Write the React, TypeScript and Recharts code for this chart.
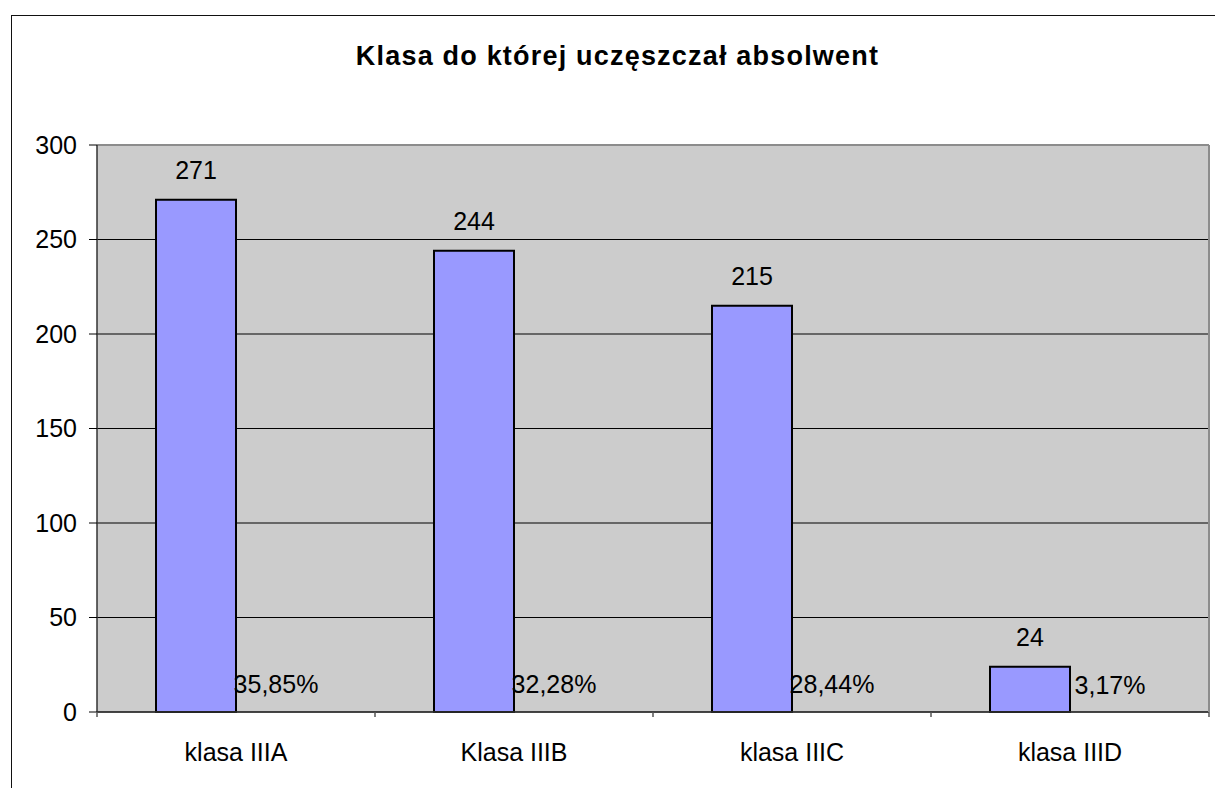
import { BarChart, Bar, XAxis, YAxis, CartesianGrid, ReferenceLine, LabelList } from "recharts";

const categories = ["klasa IIIA", "Klasa IIIB", "klasa IIIC", "klasa IIID"];
const counts = [271, 244, 215, 24];
const percents = [35.85, 32.28, 28.44, 3.17];
const yTicks = [0, 50, 100, 150, 200, 250, 300];

const FONT = "'Liberation Sans', Arial, sans-serif";

const data = categories.map((name, i) => ({
  name,
  count: counts[i],
  // share drawn as an (invisible) second series, like the original sheet
  share: percents[i] / 100,
  pct: percents[i],
}));

function CategoryTick(props: any) {
  const { x, y, payload, index } = props;
  const half = payload?.offset ?? 139;
  const last = index === categories.length - 1;
  return (
    <g>
      <line x1={x - half} y1={y} x2={x - half} y2={y + 5} stroke="#555" strokeWidth={1.5} />
      {last && <line x1={x + half} y1={y} x2={x + half} y2={y + 5} stroke="#555" strokeWidth={1.5} />}
      <text x={x} y={y + 31} dy="0.71em" textAnchor="middle" fontSize={25} fontFamily={FONT} fill="#000">
        {payload.value}
      </text>
    </g>
  );
}

export default function App() {
  return (
    <div
      style={{
        position: "absolute",
        left: 0,
        top: 0,
        width: 1215,
        height: 788,
        overflow: "hidden",
        background: "#fff",
        fontFamily: FONT,
      }}
    >
      <div
        style={{
          position: "absolute",
          left: 11,
          top: 15,
          width: 1230,
          height: 800,
          borderLeft: "1px solid #111",
          borderTop: "1px solid #111",
        }}
      />
      <div
        style={{
          position: "absolute",
          left: 11,
          top: 43,
          width: 1213,
          textAlign: "center",
          fontSize: 27,
          lineHeight: "27px",
          fontWeight: "bold",
          letterSpacing: 1.2,
          color: "#000",
        }}
      >
        Klasa do której uczęszczał absolwent
      </div>
      <BarChart
        width={1215}
        height={788}
        data={data}
        margin={{ top: 145, right: 0, bottom: 0, left: 0 }}
        barSize={80}
        barGap={0}
        style={{ position: "absolute", left: 0, top: 0 }}
      >
        <CartesianGrid vertical={false} fill="#cccccc" stroke="#000" strokeWidth={1} />
        <XAxis
          dataKey="name"
          height={76}
          tickSize={0}
          tickMargin={0}
          tickLine={false}
          axisLine={{ stroke: "#333", strokeWidth: 1.5 }}
          tick={<CategoryTick />}
          interval={0}
        />
        <YAxis
          width={97}
          domain={[0, 300]}
          ticks={yTicks}
          interval={0}
          tickSize={8}
          tickMargin={12}
          tickLine={{ stroke: "#000" }}
          axisLine={{ stroke: "#333", strokeWidth: 1.5 }}
          tick={{ fontSize: 25, fill: "#000", fontFamily: FONT }}
        />
        <YAxis
          yAxisId="frame"
          orientation="right"
          width={6}
          domain={[0, 300]}
          tick={false}
          tickLine={false}
          axisLine={{ stroke: "#8c8c8c", strokeWidth: 2 }}
        />
        <ReferenceLine y={300} stroke="#8c8c8c" strokeWidth={2} />
        <Bar dataKey="count" fill="#9999ff" stroke="#000" strokeWidth={2} isAnimationActive={false}>
          <LabelList
            dataKey="count"
            position="top"
            offset={21}
            fontSize={25}
            fill="#000"
            fontFamily={FONT}
          />
        </Bar>
        <Bar dataKey="share" fill="transparent" stroke="none" isAnimationActive={false}>
          <LabelList
            dataKey="pct"
            position="top"
            offset={18}
            fontSize={25}
            fill="#000"
            fontFamily={FONT}
            formatter={(v: any) => `${Number(v).toFixed(2).replace(".", ",")}%`}
          />
        </Bar>
      </BarChart>
    </div>
  );
}
